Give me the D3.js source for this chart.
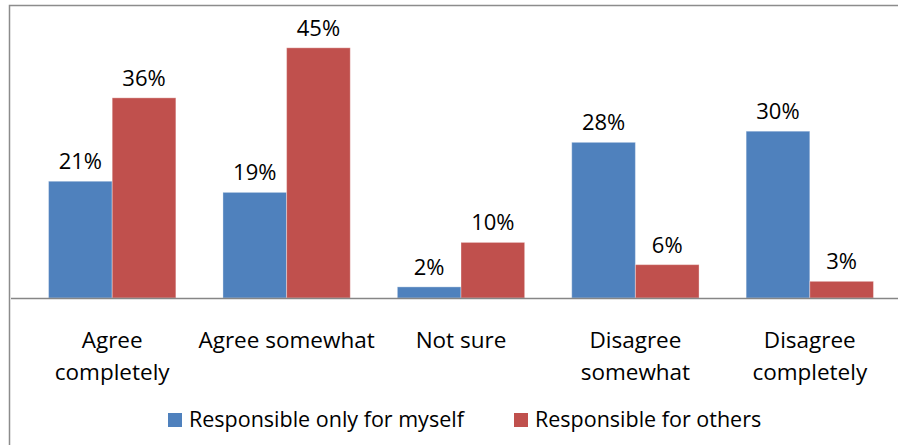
<!DOCTYPE html>
<html><head><meta charset="utf-8">
<script src="https://cdn.jsdelivr.net/npm/d3@7"></script>
<style>body{margin:0;background:#fff}svg{display:block}text{font-family:"Open Sans",sans-serif;fill:#000}</style>
</head><body><svg id="c" width="898" height="445"></svg>
<script>
const categories = [["Agree","completely"],["Agree somewhat"],["Not sure"],["Disagree","somewhat"],["Disagree","completely"]];
const seriesNames = ["Responsible only for myself","Responsible for others"];
const myself = [21,19,2,28,30];
const others = [36,45,10,6,3];
const colors = ["#4F81BD","#C0504D"];

const svg = d3.select("#c");
svg.append("rect").attr("x",9.5).attr("y",5.5).attr("width",900).attr("height",460)
  .attr("fill","none").attr("stroke","#8c8c8c").attr("stroke-width",1.5);

const x0 = d3.scaleBand().domain(d3.range(5)).range([25,897]).paddingInner(0.27).paddingOuter(0.135);
const x1 = d3.scaleBand().domain([0,1]).range([0,x0.bandwidth()]);
const y = d3.scaleLinear().domain([0,50]).range([298,20]);
const series=[myself,others];

const g = svg.append("g");
categories.forEach((c,i)=>{
  series.forEach((s,j)=>{
    g.append("rect").attr("x",x0(i)+x1(j)).attr("y",y(s[i])).attr("width",x1.bandwidth()).attr("height",y(0)-y(s[i]))
      .attr("fill",colors[j]).attr("stroke","rgba(255,255,255,0.35)").attr("stroke-width",1);
    g.append("text").attr("x",x0(i)+x1(j)+x1.bandwidth()/2).attr("y",y(s[i])-12)
      .attr("text-anchor","middle").attr("font-size",22).text(s[i]+"%");
  });
});
svg.append("line").attr("x1",11).attr("x2",898).attr("y1",298.5).attr("y2",298.5).attr("stroke","#868686").attr("stroke-width",1.5);

categories.forEach((c,i)=>{
  const t = svg.append("text").attr("x",x0(i)+x0.bandwidth()/2).attr("y",348).attr("text-anchor","middle").attr("font-size",22.5);
  c.forEach((line,k)=>t.append("tspan").attr("x",x0(i)+x0.bandwidth()/2).attr("dy",k?32:0).text(line));
});

const leg = svg.append("g");
const legX=[168,514];
seriesNames.forEach((n,j)=>{
  leg.append("rect").attr("x",legX[j]).attr("y",413).attr("width",14).attr("height",14).attr("fill",colors[j]);
  leg.append("text").attr("x",legX[j]+21).attr("y",427).attr("font-size",21.5).text(n);
});
</script></body></html>
